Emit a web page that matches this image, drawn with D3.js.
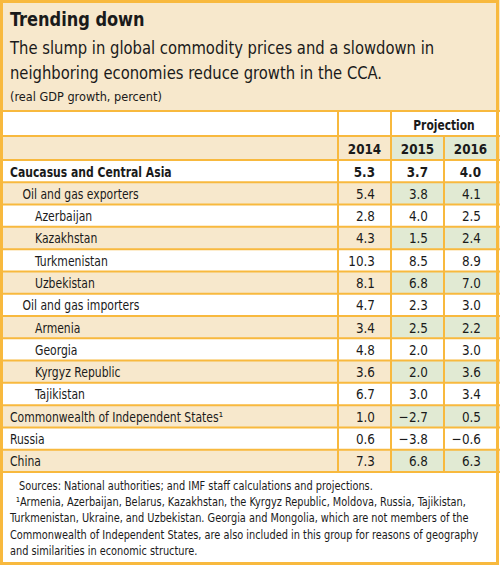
<!DOCTYPE html>
<html>
<head>
<meta charset="utf-8">
<script src="https://cdn.jsdelivr.net/npm/d3@7"></script>
<style>
  body { margin: 0; background: #fff; }
  svg text { font-family: "DejaVu Sans Condensed", "Liberation Sans Narrow", "Liberation Sans", sans-serif; fill: #1a1a1a; }
</style>
</head>
<body>
<div id="chart"></div>
<script>
// table values
var years = ["2014", "2015", "2016"];
var projYears = ["2015", "2016"];
var rowLabels = ["Caucasus and Central Asia", "Oil and gas exporters", "Azerbaijan", "Kazakhstan",
    "Turkmenistan", "Uzbekistan", "Oil and gas importers", "Armenia", "Georgia", "Kyrgyz Republic",
    "Tajikistan", "Commonwealth of Independent States\u00b9", "Russia", "China"];
var rowLevels = [0, 1, 2, 2, 2, 2, 1, 2, 2, 2, 2, 0, 0, 0];
var v2014 = [5.3, 5.4, 2.8, 4.3, 10.3, 8.1, 4.7, 3.4, 4.8, 3.6, 6.7, 1.0, 0.6, 7.3];
var v2015 = [3.7, 3.8, 4.0, 1.5, 8.5, 6.8, 2.3, 2.5, 2.0, 2.0, 3.0, -2.7, -3.8, 6.8];
var v2016 = [4.0, 4.1, 2.5, 2.4, 8.9, 7.0, 3.0, 2.2, 3.0, 3.6, 3.4, 0.5, -0.6, 6.3];
var title = "Trending down";
var subtitle = ["The slump in global commodity prices and a slowdown in",
    "neighboring economies reduce growth in the CCA."];
var unitNote = "(real GDP growth, percent)";
var notes = ["Sources: National authorities; and IMF staff calculations and projections.",
    "\u00b9Armenia, Azerbaijan, Belarus, Kazakhstan, the Kyrgyz Republic, Moldova, Russia, Tajikistan,",
    "Turkmenistan, Ukraine, and Uzbekistan. Georgia and Mongolia, which are not members of the",
    "Commonwealth of Independent States, are also included in this group for reasons of geography",
    "and similarities in economic structure."];

var W = 500, H = 567;
var orange = "#f8b93e", beige = "#f7e8cc", green = "#e1ead3";

// squeeze text horizontally around its anchor x (the original uses a condensed face)
function condense(sel, k) {
    sel.each(function() {
        var x0 = +d3.select(this).attr("x");
        d3.select(this).attr("transform", "translate(" + (x0 * (1 - k)) + ",0) scale(" + k + ",1)");
    });
}

var svg = d3.select("#chart").append("svg")
    .attr("width", W)
    .attr("height", H);

// header band
svg.append("rect").attr("x", 0).attr("y", 0).attr("width", W).attr("height", 111).attr("fill", beige);

svg.append("text")
    .attr("x", 10).attr("y", 26)
    .attr("font-size", 20).attr("font-weight", "bold")
    .text(title)
    .call(condense, 0.9);

svg.selectAll(".sub").data(subtitle).enter().append("text")
    .attr("class", "sub")
    .attr("x", 10).attr("y", function(d, i) { return 54 + i * 25; })
    .attr("font-size", 17.5)
    .text(function(d) { return d; })
    .call(condense, 0.94);

svg.append("text")
    .attr("x", 10).attr("y", 101.5)
    .attr("font-size", 13)
    .text(unitNote)
    .call(condense, 0.97);

// scales
var x = d3.scaleBand().domain(years).range([338, 497]);
var y = d3.scaleBand().domain(d3.range(rowLabels.length)).range([160, 472]);
var headTop = 111, headMid = 136;
var fmt = d3.format(".1f");
var kTable = 0.86;

var rows = rowLabels.map(function(d, i) {
    return {label: d, level: rowLevels[i], vals: [v2014[i], v2015[i], v2016[i]], i: i};
});

// year header row (shaded)
svg.append("rect").attr("x", 0).attr("y", headMid).attr("width", W).attr("height", y(0) - headMid).attr("fill", beige);
svg.selectAll(".yhead").data(projYears).enter().append("rect")
    .attr("x", function(d) { return x(d); })
    .attr("y", headMid)
    .attr("width", x.bandwidth())
    .attr("height", y(0) - headMid)
    .attr("fill", green);

// body rows: every other row shaded
var rowG = svg.selectAll(".row").data(rows).enter().append("g")
    .attr("class", "row")
    .attr("transform", function(d) { return "translate(0," + y(d.i) + ")"; });

rowG.filter(function(d) { return d.i % 2 === 1; }).append("rect")
    .attr("x", 0).attr("width", W).attr("height", y.bandwidth()).attr("fill", beige);

rowG.filter(function(d) { return d.i % 2 === 1; }).selectAll(".g")
    .data(projYears).enter().append("rect")
    .attr("x", function(d) { return x(d); })
    .attr("width", x.bandwidth())
    .attr("height", y.bandwidth())
    .attr("fill", green);

rowG.append("text")
    .attr("x", function(d) { return 10 + d.level * 12.5; })
    .attr("y", y.bandwidth() / 2 + 5.5)
    .attr("font-size", 14)
    .attr("font-weight", function(d) { return d.i === 0 ? "bold" : "normal"; })
    .text(function(d) { return d.label; })
    .call(condense, kTable);

rowG.selectAll(".val").data(function(d) {
        return d.vals.map(function(v, k) { return {v: v, year: years[k], bold: d.i === 0}; });
    }).enter().append("text")
    .attr("class", "val")
    .attr("x", function(d) { return x(d.year) + x.bandwidth() - 16; })
    .attr("y", y.bandwidth() / 2 + 5.5)
    .attr("text-anchor", "end")
    .attr("font-size", 14.5)
    .attr("font-weight", function(d) { return d.bold ? "bold" : "normal"; })
    .text(function(d) { return fmt(d.v); })
    .call(condense, 0.92);

// column headers
svg.selectAll(".yr").data(years).enter().append("text")
    .attr("x", function(d) { return x(d) + x.bandwidth() / 2; })
    .attr("y", headMid + 18.5)
    .attr("text-anchor", "middle")
    .attr("font-size", 14.5).attr("font-weight", "bold")
    .text(function(d) { return d; })
    .call(condense, 0.92);

svg.append("text")
    .attr("x", (x("2015") + x.range()[1]) / 2)
    .attr("y", headTop + 19.5)
    .attr("text-anchor", "middle")
    .attr("font-size", 14.5).attr("font-weight", "bold")
    .text("Projection")
    .call(condense, 0.82);

svg.append("line")
    .attr("x1", x("2015")).attr("x2", x.range()[1] - 1)
    .attr("y1", headMid).attr("y2", headMid)
    .attr("stroke", "#111").attr("stroke-width", 1.2);

// grid lines
var hLines = [headTop, headMid].concat(d3.range(rowLabels.length + 1).map(function(i) {
    return i < rowLabels.length ? y(i) : y.range()[1];
}));
svg.selectAll(".hl").data(hLines).enter().append("line")
    .attr("x1", 0).attr("x2", W)
    .attr("y1", function(d) { return d; }).attr("y2", function(d) { return d; })
    .attr("stroke", orange).attr("stroke-width", 2);

// vertical rules; the one between 2015 and 2016 starts below "Projection"
svg.selectAll(".vl").data(years).enter().append("line")
    .attr("x1", function(d) { return x(d); }).attr("x2", function(d) { return x(d); })
    .attr("y1", function(d) { return d === "2016" ? headMid : headTop; })
    .attr("y2", y.range()[1])
    .attr("stroke", orange).attr("stroke-width", 2);

// notes
svg.selectAll(".note").data(notes).enter().append("text")
    .attr("class", "note")
    .attr("x", function(d, i) { return i === 0 ? 19 : (i === 1 ? 16 : 10); })
    .attr("y", function(d, i) { return 490 + i * 16.2; })
    .attr("font-size", 12.8)
    .text(function(d) { return d; })
    .call(condense, 0.85);

// outer frame
svg.append("rect")
    .attr("x", 1.5).attr("y", 1.5)
    .attr("width", W - 4).attr("height", H - 5)
    .attr("fill", "none")
    .attr("stroke", orange).attr("stroke-width", 3);
</script>
</body>
</html>
